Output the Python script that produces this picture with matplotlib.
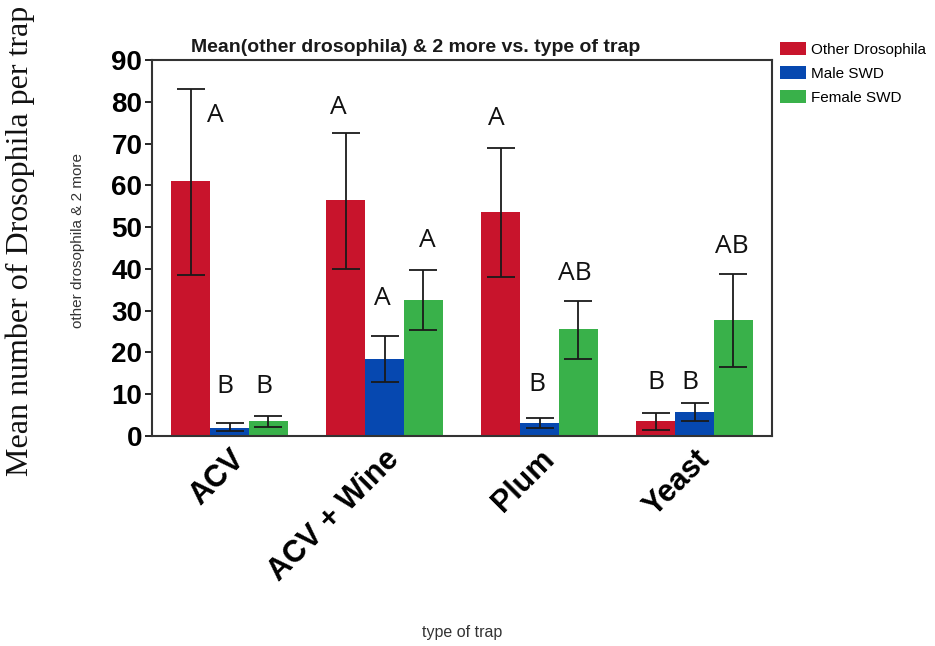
import numpy as np
import matplotlib
matplotlib.use('Agg')
import matplotlib.pyplot as plt
from matplotlib.patches import Patch

# data
traps = ['ACV', 'ACV + Wine', 'Plum', 'Yeast']
series = ['Other Drosophila', 'Male SWD', 'Female SWD']
other_mean = [61.0, 56.5, 53.5, 3.5]
other_lo = [38.5, 40.0, 38.0, 1.5]
other_hi = [83.0, 72.5, 69.0, 5.5]
male_mean = [2.0, 18.5, 3.2, 5.8]
male_lo = [1.2, 13.0, 2.0, 3.5]
male_hi = [3.0, 24.0, 4.3, 8.0]
female_mean = [3.5, 32.5, 25.5, 27.7]
female_lo = [2.2, 25.3, 18.5, 16.5]
female_hi = [4.7, 39.7, 32.3, 38.7]
letters = [['A', 'B', 'B'],
           ['A', 'A', 'A'],
           ['A', 'B', 'AB'],
           ['B', 'B', 'AB']]

means = [other_mean, male_mean, female_mean]
lows = [other_lo, male_lo, female_lo]
highs = [other_hi, male_hi, female_hi]
colors = ['#c8142c', '#0648b0', '#39b14a']

# where the significance letters sit (x shift from bar centre, height)
letter_dx = [[0.156, -0.03, -0.03],
             [-0.047, -0.013, 0.028],
             [-0.028, -0.02, -0.024],
             [0.0, -0.03, -0.008]]
letter_y = [[76.7, 11.8, 11.8],
            [78.6, 33.0, 46.8],
            [76.0, 12.4, 39.0],
            [12.9, 12.9, 45.3]]

fig = plt.figure(figsize=(9.35, 6.46), dpi=100)
ax = fig.add_axes([0.1626, 0.3251, 0.6631, 0.582])

x = np.arange(len(traps))
w = 0.25
for j in range(3):
    m = np.array(means[j])
    err = np.array([m - np.array(lows[j]), np.array(highs[j]) - m])
    pos = x + (j - 1) * w
    ax.bar(pos, m, width=w, color=colors[j], edgecolor='none', zorder=2)
    ax.errorbar(pos, m, yerr=err, fmt='none', ecolor='#1a1a1a',
                elinewidth=1.3, capsize=10, capthick=1.3, zorder=3)
    for i in range(len(traps)):
        ax.text(pos[i] + letter_dx[i][j], letter_y[i][j], letters[i][j],
                ha='center', va='center', fontsize=19, family='Open Sans',
                color='#111111')

ax.set_xlim(-0.5, 3.5)
ax.set_ylim(0, 90)
ax.set_yticks(range(0, 91, 10))
ax.set_xticks(x)
ax.set_xticklabels(traps, rotation=45, ha='right', rotation_mode='anchor',
                   fontsize=22, fontweight='bold', family='Liberation Sans')
ax.tick_params(axis='x', length=0, pad=6)
ax.tick_params(axis='y', length=5, width=1.2, labelsize=20, pad=2)
for lab in ax.get_yticklabels():
    lab.set_fontweight('bold')
    lab.set_family('Liberation Sans')
for s in ax.spines.values():
    s.set_linewidth(1.5)
    s.set_color('#333333')

fig.text(0.445, 1 - 47 / 646, 'Mean(other drosophila) & 2 more vs. type of trap',
         ha='center', va='center', fontsize=14, fontweight='bold',
         family='Liberation Sans', color='#1a1a1a')
fig.text(78 / 935, 1 - 241 / 646, 'other drosophila & 2 more', rotation=90,
         ha='center', va='center', fontsize=11, family='Liberation Sans',
         color='#333333')
fig.text(20 / 935, 1 - 241 / 646, 'Mean number of Drosophila per trap',
         rotation=90, ha='center', va='center', fontsize=23,
         family='Liberation Serif', color='#111111')
fig.text(462 / 935, 1 - 632 / 646, 'type of trap', ha='center', va='center',
         fontsize=11.5, family='Liberation Sans', color='#333333')

handles = [Patch(facecolor=c, edgecolor='none') for c in colors]
fig.legend(handles, series, loc='upper left', bbox_to_anchor=(780 / 935, 1 - 42 / 646),
           frameon=False, borderaxespad=0, borderpad=0,
           handlelength=1.7, handleheight=0.95, handletextpad=0.33,
           labelspacing=0.6, prop={'family': 'Liberation Sans', 'size': 11})

fig.savefig('out.png', dpi=100)
